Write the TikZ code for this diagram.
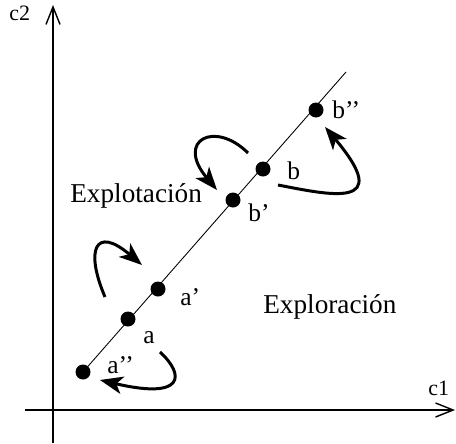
\documentclass[tikz,border=0pt]{standalone}
\usepackage{fontspec}
\setmainfont{Liberation Serif}
\usetikzlibrary{arrows.meta, positioning}

\begin{document}
\begin{tikzpicture}[x=0.02cm, y=-0.02cm,
    point/.style={circle, fill=black, inner sep=0pt, minimum size=0.3cm},
    tag/.style={anchor=base west, inner sep=0pt, font=\fontsize{14.5}{16}\selectfont},
    axlabel/.style={anchor=base west, inner sep=0pt, font=\fontsize{12.5}{14}\selectfont},
    region/.style={anchor=base west, inner sep=0pt, font=\fontsize{15.5}{18}\selectfont},
    move/.style={line width=1.7pt, -{Stealth[length=13pt, width=10pt, inset=3.5pt]}},
    axis/.style={line width=0.8pt, -{Straight Barb[length=10pt, width=8pt]}}]
  \useasboundingbox (0,0) rectangle (456,443);

  % axes
  \coordinate (yfoot) at (53,443);
  \coordinate (ytip) at (53,5);
  \coordinate (xfoot) at (25,410);
  \coordinate (xtip) at (455,410);
  \draw[axis] (yfoot) -- (ytip);
  \draw[axis] (xfoot) -- (xtip);
  \node[axlabel] (c2) at (9,20) {c2};
  \node[axlabel] (c1) at (428,395) {c1};

  % points on the line
  \node[point] (app) at (83,372) {};
  \node[point] (a) at (128,319) {};
  \node[point] (ap) at (158,289) {};
  \node[point] (bp) at (233,200) {};
  \node[point] (b) at (263,169) {};
  \node[point] (bpp) at (316,110) {};
  \coordinate (top) at (346,72);
  \draw[line width=0.5pt] (app.center) -- (top);

  \node[tag] at (107,373) {a'{}'};
  \node[tag] at (143,343) {a};
  \node[tag] at (180,305) {a'};
  \node[tag] at (248,221) {b'};
  \node[tag] at (287,179) {b};
  \node[tag] at (332,118) {b'{}'};

  \node[region] (explot) at (70,202) {Explotación};
  \node[region] (explor) at (263,313) {Exploración};

  % moves
  \draw[move] (248,153) .. controls (215,120) and (175,140) .. (217,190);
  \draw[move] (278,185) .. controls (330,195) and (395,210) .. (325,127);
  \draw[move] (105,297) .. controls (85,250) and (95,225) .. (142,265);
  \draw[move] (160,352) .. controls (185,375) and (185,400) .. (100,380);
\end{tikzpicture}
\end{document}
